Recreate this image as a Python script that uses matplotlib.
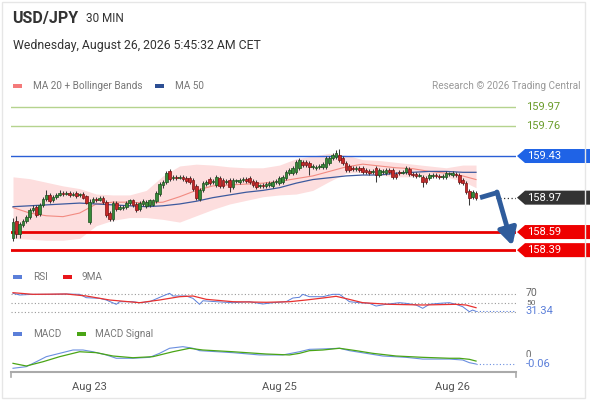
import matplotlib
matplotlib.use('Agg')
import matplotlib.pyplot as plt
from matplotlib.patches import Rectangle, Polygon
import matplotlib.transforms as mtransforms
import numpy as np

plt.rcParams['font.family'] = ['Roboto', 'DejaVu Sans']

# ---------------- data ----------------
opens = [158.52,158.71,158.57,158.67,158.71,158.76,158.83,158.87,158.79,158.89,
         158.96,159.00,158.94,158.98,159.00,159.02,159.01,159.02,159.00,159.02,
         159.00,159.01,158.99,158.70,158.92,158.96,158.94,158.97,158.92,158.80,
         158.73,158.91,158.84,158.86,158.87,158.91,158.94,158.90,158.84,158.90,
         158.88,158.89,158.89,158.93,159.01,159.11,159.14,159.26,159.19,159.20,
         159.19,159.20,159.19,159.19,159.17,159.10,158.96,159.05,159.12,159.18,
         159.14,159.11,159.19,159.17,159.14,159.17,159.09,159.15,159.14,159.17,
         159.18,159.19,159.15,159.14,159.10,159.11,159.10,159.11,159.10,159.14,
         159.13,159.14,159.19,159.24,159.24,159.25,159.30,159.36,159.36,159.35,
         159.31,159.30,159.31,159.31,159.31,159.35,159.41,159.42,159.44,159.41,
         159.35,159.32,159.30,159.29,159.30,159.30,159.28,159.26,159.25,159.30,
         159.22,159.25,159.24,159.28,159.28,159.23,159.25,159.24,159.25,159.29,
         159.23,159.23,159.21,159.20,159.19,159.19,159.21,159.22,159.21,159.20,
         159.20,159.23,159.22,159.23,159.22,159.17,159.13,159.04,158.98,159.02]
closes = [158.70,158.57,158.68,158.71,158.76,158.83,158.86,158.78,158.89,158.96,
          159.00,158.93,158.98,159.00,159.02,159.01,159.02,159.00,159.01,158.99,
          159.01,158.97,158.91,158.92,158.96,158.94,158.97,158.92,158.78,158.73,
          158.91,158.84,158.87,158.87,158.91,158.94,158.89,158.83,158.91,158.93,
          158.92,158.94,158.94,159.02,159.12,159.14,159.24,159.18,159.20,159.19,
          159.20,159.18,159.15,159.14,159.07,158.97,159.05,159.13,159.14,159.13,
          159.15,159.20,159.10,159.10,159.15,159.09,159.17,159.16,159.17,159.18,
          159.15,159.14,159.11,159.09,159.11,159.10,159.12,159.13,159.14,159.15,
          159.19,159.20,159.25,159.28,159.30,159.36,159.39,159.33,159.33,159.31,
          159.32,159.31,159.32,159.34,159.41,159.41,159.44,159.46,159.39,159.35,
          159.28,159.28,159.29,159.30,159.28,159.25,159.25,159.24,159.26,159.22,
          159.28,159.26,159.28,159.25,159.20,159.20,159.24,159.25,159.30,159.23,
          159.22,159.21,159.22,159.14,159.14,159.22,159.22,159.21,159.20,159.21,
          159.24,159.24,159.24,159.22,159.14,159.13,159.03,158.97,159.03,158.97]
highs = [158.75,158.77,158.70,158.73,158.78,158.86,158.89,158.89,158.91,158.98,
         159.05,159.02,159.00,159.02,159.05,159.04,159.04,159.04,159.03,159.04,
         159.02,159.03,159.00,158.96,158.98,158.98,158.99,158.99,158.94,158.82,
         158.93,158.93,158.89,158.89,158.93,158.96,158.96,158.92,158.93,158.96,
         158.94,158.96,158.96,159.04,159.14,159.17,159.26,159.29,159.22,159.22,
         159.22,159.22,159.21,159.21,159.19,159.12,159.08,159.15,159.17,159.20,
         159.18,159.22,159.21,159.19,159.18,159.19,159.19,159.18,159.19,159.20,
         159.20,159.21,159.18,159.17,159.12,159.13,159.14,159.15,159.17,159.18,
         159.21,159.22,159.28,159.30,159.32,159.39,159.41,159.39,159.39,159.38,
         159.34,159.33,159.34,159.36,159.43,159.43,159.46,159.50,159.51,159.43,
         159.38,159.34,159.32,159.32,159.32,159.32,159.30,159.29,159.29,159.32,
         159.30,159.29,159.30,159.30,159.30,159.25,159.28,159.28,159.32,159.31,
         159.25,159.25,159.24,159.22,159.21,159.24,159.24,159.24,159.23,159.23,
         159.26,159.25,159.26,159.25,159.24,159.19,159.15,159.07,159.05,159.04]
lows = [158.49,158.52,158.52,158.65,158.69,158.73,158.81,158.76,158.77,158.87,
        158.93,158.91,158.92,158.96,158.99,158.99,159.00,158.98,158.99,158.97,
        158.98,158.96,158.90,158.68,158.91,158.92,158.93,158.90,158.76,158.71,
        158.71,158.82,158.83,158.83,158.84,158.89,158.87,158.81,158.82,158.88,
        158.86,158.87,158.88,158.91,158.99,159.08,159.12,159.15,159.17,159.17,
        159.18,159.15,159.13,159.12,159.04,158.94,158.93,159.03,159.10,159.11,
        159.12,159.09,159.08,159.08,159.12,159.03,159.07,159.13,159.12,159.14,
        159.13,159.12,159.09,159.07,159.08,159.08,159.08,159.09,159.08,159.12,
        159.11,159.12,159.17,159.22,159.22,159.23,159.28,159.31,159.31,159.22,
        159.29,159.28,159.29,159.29,159.29,159.33,159.39,159.40,159.36,159.33,
        159.25,159.25,159.26,159.26,159.25,159.23,159.23,159.22,159.23,159.14,
        159.20,159.23,159.22,159.23,159.18,159.18,159.22,159.23,159.23,159.21,
        159.20,159.19,159.20,159.09,159.12,159.17,159.19,159.19,159.18,159.18,
        159.18,159.21,159.20,159.20,159.12,159.11,159.01,158.89,158.96,158.94]

ind_idx = [0,5,10,15,20,25,30,35,40,45,50,55,60,65,70,75,80,85,90,95,100,105,110,115,120,125,130,135,139]
ma20 = [158.86,158.80,158.77,158.76,158.80,158.90,158.92,158.92,158.91,158.92,158.98,159.05,159.10,159.11,
        159.12,159.13,159.15,159.18,159.21,159.26,159.31,159.34,159.32,159.30,159.29,159.26,159.24,159.21,159.17]
ma50 = [158.87,158.88,158.89,158.90,158.91,158.90,158.89,158.88,158.87,158.88,158.90,158.93,158.97,159.00,
        159.03,159.05,159.08,159.13,159.17,159.19,159.21,159.22,159.22,159.24,159.25,159.26,159.26,159.25,159.25]
bb_up = [159.20,159.18,159.14,159.10,159.07,159.01,159.00,159.00,159.05,159.21,159.32,159.34,159.33,159.31,
         159.30,159.30,159.33,159.40,159.43,159.46,159.44,159.39,159.38,159.36,159.34,159.32,159.30,159.33,159.33]
bb_lo = [158.52,158.51,158.50,158.50,158.52,158.66,158.72,158.75,158.75,158.73,158.70,158.77,158.84,158.90,
         158.94,158.98,159.00,159.01,159.05,159.15,159.24,159.25,159.22,159.20,159.20,159.20,159.20,159.15,159.08]

rsi_idx = [0,2,6,11,16,20,22,26,28,31,32,36,38,41,45,47,48,52,54,56,57,61,66,71,75,78,82,84,86,87,
           89,93,96,98,99,101,104,107,109,112,116,118,121,123,125,128,131,133,135,137,138,139]
rsi = [71.6,67.8,69.3,69.3,70.0,69.3,61.8,60.4,56.7,47.1,52.9,52.9,50.7,52.9,65.6,71.6,65.6,65.6,60.4,47.1,
       55.0,52.9,50.7,52.9,47.8,50.7,52.9,61.1,62.7,69.3,64.0,64.0,69.3,69.3,64.0,52.9,50.7,49.3,43.3,47.1,
       50.7,49.3,45.6,38.2,47.1,49.3,50.7,47.1,41.8,30.7,34.4,31.34]
rsi9_idx = [0,6,16,22,29,38,44,50,54,58,66,76,83,88,93,97,100,105,113,123,133,136,139]
rsi9 = [72.9,69.3,70.0,65.6,56.7,50.7,56.7,64.0,65.6,58.2,52.9,51.6,52.9,56.7,61.1,64.9,59.8,50.7,47.1,45.6,47.1,45.6,39.6]

macd_idx = [0,4,7,10,14,18,21,24,28,31,36,41,44,47,51,54,56,66,74,81,86,89,93,98,101,106,111,118,123,131,135,137,139]
macd = [-0.092,-0.080,-0.043,-0.005,0.020,0.045,0.045,0.032,0.008,-0.017,-0.017,-0.010,0.020,0.058,0.070,0.058,
        0.040,0.025,0.008,0.008,0.032,0.050,0.053,0.058,0.040,0.020,0.000,-0.010,-0.023,-0.023,-0.030,-0.050,-0.060]
sig_idx = [0,4,9,14,20,25,30,36,42,48,53,57,66,76,83,86,89,93,98,103,108,115,123,131,134,137,139]
macd_sig = [-0.055,-0.075,-0.043,-0.005,0.032,0.025,0.000,-0.013,-0.005,0.032,0.058,0.045,0.032,0.015,0.008,
            0.020,0.040,0.045,0.058,0.040,0.020,0.000,-0.010,-0.017,-0.017,-0.025,-0.038]

res_levels = [159.97, 159.76]
pivot = 159.43
sup_levels = [158.59, 158.39]
last_price = 158.97
rsi_levels = [70, 50, 30]
tick_idx = [23, 80, 132]
tick_labels = ['Aug 23', 'Aug 25', 'Aug 26']

# ---------------- layout ----------------
W, H = 590, 400
fig = plt.figure(figsize=(W / 100, H / 100), dpi=100)
fig.patch.set_facecolor('white')

def rect(x0, y0, x1, y1):
    return [x0 / W, 1 - y1 / H, (x1 - x0) / W, (y1 - y0) / H]

def fx(px):
    return px / W

def fy(py):
    return 1 - py / H

XL = (-0.6, 151.0)
n = len(closes)
x = np.arange(n)
o = np.array(opens); c = np.array(closes); hi = np.array(highs); lo = np.array(lows)

# frame
fig.add_artist(Rectangle((fx(2), fy(398)), (583) / W, 396 / H, transform=fig.transFigure,
                         fill=False, edgecolor='#e6e6e6', lw=1))

# header texts
fig.text(fx(12), fy(18), 'USD/JPY', fontsize=11.5, fontweight='bold', color='#333333', va='center')
fig.text(fx(86), fy(18), '30 MIN', fontsize=8.5, color='#333333', va='center')
fig.text(fx(13), fy(46), 'Wednesday, August 26, 2026 5:45:32 AM CET', fontsize=8.8, color='#333333', va='center')

def legend_item(px, py, color, label, tx):
    fig.add_artist(Rectangle((fx(px), fy(py + 2)), 9 / W, 4 / H, transform=fig.transFigure,
                             facecolor=color, edgecolor='none'))
    fig.text(fx(tx), fy(py), label, fontsize=7.2, color='#777777', va='center')

legend_item(13, 86, '#f47a7a', 'MA 20 + Bollinger Bands', 33)
legend_item(155, 86, '#2d4f94', 'MA 50', 175)
fig.text(fx(581), fy(86), 'Research \u00a9 2026 Trading Central', fontsize=7.2, color='#999999',
         ha='right', va='center')
legend_item(13, 277, '#5b7fd9', 'RSI', 33)
legend_item(63, 277, '#e8161b', '9MA', 82)
legend_item(13, 334, '#5b7fd9', 'MACD', 33)
legend_item(77, 334, '#4aa516', 'MACD Signal', 95)

# ---------------- main chart ----------------
ax = fig.add_axes(rect(11, 98, 516, 262))
ax.set_xlim(*XL)
ax.set_ylim(158.259, 160.071)
ax.axis('off')

ax.fill_between(ind_idx, bb_lo, bb_up, color='#fddede', lw=0, zorder=1)
ax.plot(ind_idx, ma20, color='#f28b82', lw=0.8, zorder=2)
ax.plot(ind_idx, ma50, color='#3d5a9e', lw=0.9, zorder=2)

for lv in res_levels:
    ax.axhline(lv, color='#b5d38e', lw=1.0, zorder=1)
ax.axhline(pivot, color='#2a5fd6', lw=1.0, zorder=1)
for lv in sup_levels:
    ax.axhline(lv, color='#e80000', lw=2.0, zorder=1)

up = c >= o
body_col = np.where(up, '#378a37', '#c62828')
edge_col = np.where(up, '#1b4f1f', '#7a1212')
ax.vlines(x, np.minimum(lo, np.minimum(o, c)), np.maximum(hi, np.maximum(o, c)),
          color='#3a3a3a', lw=0.75, zorder=3)
ax.bar(x, np.maximum(np.abs(c - o), 0.007), bottom=np.minimum(o, c), width=0.8,
       color=body_col, edgecolor=edge_col, linewidth=0.5, zorder=4)

# dotted line to last price label
ax.plot([n - 1 + 6, XL[1]], [last_price, last_price], color='#333333', lw=0.9, ls=(0, (1, 2)), zorder=2)

# forecast arrow
last = closes[-1]
ax.plot([n - 1 + 1.2, n - 1 + 6.3], [last, last + 0.055], color='#2f5c9c', lw=3.5,
        solid_capstyle='butt', zorder=6)
ax.annotate('', xy=(n - 1 + 10.9, sup_levels[1] + 0.05), xytext=(n - 1 + 6.3, last + 0.062),
            arrowprops=dict(arrowstyle='-|>,head_length=1.0,head_width=0.55', lw=3.5,
                            color='#2f5c9c', shrinkA=0, shrinkB=0), zorder=6)

# right-side labels
tr = mtransforms.blended_transform_factory(ax.transAxes, ax.transData)
ax_w = 505.0
ppx = (160.071 - 158.259) / 164.0  # price per pixel

def tag(level, color, txt_color='white'):
    x0 = 1 + 1 / ax_w
    xa = 1 + 9 / ax_w
    x1 = 1 + 74 / ax_w
    h2 = 7 * ppx
    poly = Polygon([(x0, level), (xa, level + h2), (x1, level + h2), (x1, level - h2), (xa, level - h2)],
                   closed=True, transform=tr, facecolor=color, edgecolor='none', clip_on=False, zorder=7)
    ax.add_patch(poly)
    ax.text(1 + 11 / ax_w, level, f'{level:.2f}', transform=tr, color=txt_color, fontsize=8,
            va='center', ha='left', zorder=8, clip_on=False)

for lv in res_levels:
    ax.text(1 + 10 / ax_w, lv, f'{lv:.2f}', transform=tr, color='#6a9c2a', fontsize=8,
            va='center', ha='left', clip_on=False)
tag(pivot, '#1f63e6')
tag(last_price, '#333333')
for lv in sup_levels:
    tag(lv, '#ee0000')

# ---------------- RSI ----------------
rax = fig.add_axes(rect(11, 286, 516, 318))
rax.set_xlim(*XL)
rax.set_ylim(16.7, 87.8)
rax.axis('off')
for lv in rsi_levels:
    rax.axhline(lv, color='#999999', lw=0.8, ls=(0, (1, 2)))
rax.plot(rsi_idx, rsi, color='#5b7fd9', lw=0.7)
rax.plot(rsi9_idx, rsi9, color='#e8312f', lw=0.9)
rax.plot([rsi_idx[-1], XL[1]], [rsi[-1], rsi[-1]], color='#5b7fd9', lw=0.8, ls=(0, (1, 2)))
rtr = mtransforms.blended_transform_factory(rax.transAxes, rax.transData)
rax.text(1 + 10 / ax_w, 71.5, '70', transform=rtr, color='#666666', fontsize=7.5, va='center', clip_on=False)
rax.text(1 + 10 / ax_w, 50, '50', transform=rtr, color='#666666', fontsize=6, va='center', clip_on=False)
rax.text(1 + 10 / ax_w, rsi[-1], f'{rsi[-1]:.2f}', transform=rtr, color='#5b7fd9', fontsize=8,
         va='center', clip_on=False, zorder=5,
         bbox=dict(facecolor='white', edgecolor='none', pad=1.0))

# ---------------- MACD ----------------
max_ = fig.add_axes(rect(11, 342, 516, 372))
max_.set_xlim(*XL)
max_.set_ylim(-0.12, 0.105)
for s in ['top', 'left', 'right']:
    max_.spines[s].set_visible(False)
max_.spines['bottom'].set_color('#aaaaaa')
max_.spines['bottom'].set_linewidth(1.5)
max_.set_yticks([])
max_.set_xticks(tick_idx)
max_.set_xticklabels(tick_labels)
max_.tick_params(axis='x', length=0, pad=7, labelsize=8, labelcolor='#555555')
max_.set_facecolor('none')
for xe in (0, 1):
    max_.plot([xe, xe], [0, -0.16], transform=max_.transAxes, color='#aaaaaa', lw=1.2, clip_on=False)
max_.plot(macd_idx, macd, color='#6b8fe0', lw=0.8)
max_.plot(sig_idx, macd_sig, color='#4aa516', lw=0.9)
max_.plot([macd_idx[-1], XL[1]], [macd[-1], macd[-1]], color='#6b8fe0', lw=0.8, ls=(0, (1, 2)))
mtr = mtransforms.blended_transform_factory(max_.transAxes, max_.transData)
max_.text(1 + 10 / ax_w, 0.01, '0', transform=mtr, color='#666666', fontsize=7, va='center', clip_on=False)
max_.text(1 + 10 / ax_w, macd[-1], f'{macd[-1]:.2f}', transform=mtr, color='#5b7fd9', fontsize=8,
          va='center', clip_on=False, zorder=5,
          bbox=dict(facecolor='white', edgecolor='none', pad=1.6))

fig.savefig('out.png', dpi=100, facecolor='white')
